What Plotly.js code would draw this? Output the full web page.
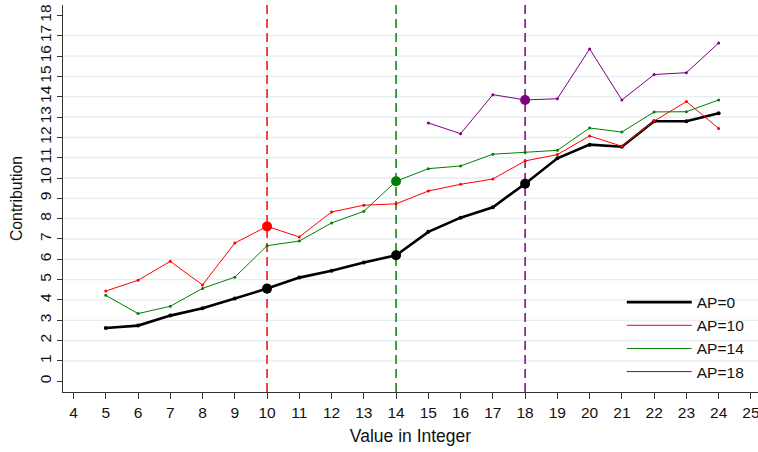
<!DOCTYPE html>
<html>
<head>
<meta charset="utf-8">
<script src="https://cdn.plot.ly/plotly-3.0.1.min.js"></script>
<style>html,body{margin:0;padding:0;background:#fff;}#chart{width:758px;height:452px;}</style>
</head>
<body>
<div id="chart"></div>
<script>
// ---- data ----
const xVals = [5,6,7,8,9,10,11,12,13,14,15,16,17,18,19,20,21,22,23,24];
const ap0  = [2.62,2.74,3.23,3.59,4.07,4.56,5.10,5.44,5.84,6.20,7.35,8.05,8.56,9.72,10.97,11.64,11.54,12.79,12.79,13.18];
const ap10 = [4.44,4.97,5.90,4.74,6.80,7.62,7.10,8.33,8.66,8.73,9.36,9.69,9.95,10.84,11.15,12.07,11.56,12.80,13.76,12.44];
const ap14 = [4.23,3.33,3.69,4.57,5.12,6.67,6.90,7.79,8.36,9.84,10.46,10.59,11.17,11.26,11.36,12.46,12.26,13.25,13.26,13.84];
const ap18x = [15,16,17,18,19,20,21,22,23,24];
const ap18 = [12.71,12.18,14.10,13.84,13.90,16.35,13.84,15.09,15.18,16.64];
const apCutoffs = [10,14,18];
const seriesNames = ['AP=0','AP=10','AP=14','AP=18'];
const xTicks = [4,5,6,7,8,9,10,11,12,13,14,15,16,17,18,19,20,21,22,23,24,25];
const yTicks = [0,1,2,3,4,5,6,7,8,9,10,11,12,13,14,15,16,17,18];

// ---- styles ----
const colors = ['#000000','#ff0000','#008000','#800080'];
const widths = [2.6,1,1,1];
const FONT = '"Liberation Sans", Arial, Helvetica, sans-serif';

const series = [
  {x: xVals, y: ap0},
  {x: xVals, y: ap10},
  {x: xVals, y: ap14},
  {x: ap18x, y: ap18}
];

const traces = [];
series.forEach((s, i) => {
  traces.push({
    x: s.x, y: s.y, type: 'scatter', mode: 'lines', name: seriesNames[i],
    line: {color: colors[i], width: widths[i]}, showlegend: true, hoverinfo: 'skip'
  });
});
series.forEach((s, i) => {
  traces.push({
    x: s.x, y: s.y, type: 'scatter', mode: 'markers', showlegend: false,
    marker: {color: colors[i], size: i === 0 ? 4 : 3}, hoverinfo: 'skip'
  });
});
// highlighted points at each cutoff: on its own series and on AP=0
apCutoffs.forEach((c, k) => {
  const s = series[k + 1];
  const idx = s.x.indexOf(c);
  const idx0 = xVals.indexOf(c);
  traces.push({
    x: [c, c], y: [s.y[idx], ap0[idx0]], type: 'scatter', mode: 'markers', showlegend: false,
    marker: {color: [colors[k + 1], colors[0]], size: 10}, hoverinfo: 'skip'
  });
});

const shapes = [];
// horizontal gridlines (1..17)
yTicks.slice(1, -1).forEach(v => {
  shapes.push({type: 'line', xref: 'paper', yref: 'y', x0: 0, x1: 1, y0: v, y1: v,
    line: {color: '#e4edf0', width: 1.3}, layer: 'below'});
});
// vertical dashed cutoff lines
apCutoffs.forEach((c, k) => {
  shapes.push({type: 'line', xref: 'x', yref: 'paper', x0: c, x1: c, y0: 0, y1: 1,
    line: {color: colors[k + 1], width: 1.5, dash: '9px,5px'}, layer: 'below'});
});

const layout = {
  width: 758, height: 452,
  margin: {l: 63, r: 0, t: 5, b: 60, pad: 0, autoexpand: false},
  paper_bgcolor: '#ffffff', plot_bgcolor: '#ffffff',
  font: {family: FONT, color: '#111', size: 15.5},
  showlegend: true,
  legend: {
    x: 0.804, y: 0.275, xanchor: 'left', yanchor: 'top',
    bgcolor: 'rgba(0,0,0,0)', font: {family: FONT, size: 15.5, color: '#111'},
    tracegroupgap: 0, itemwidth: 65
  },
  xaxis: {
    range: [3.674, 25.22], tickmode: 'array', tickvals: xTicks, ticktext: xTicks.map(String),
    ticks: 'outside', ticklen: 6, tickwidth: 1, tickcolor: '#333',
    showline: true, linecolor: '#333', linewidth: 1, showgrid: false, zeroline: false,
    ticklabeloverflow: 'allow', automargin: false,
    tickfont: {family: FONT, size: 15.5, color: '#111'},
    title: {text: 'Value in Integer', font: {family: FONT, size: 17.5, color: '#111'}, standoff: 10}
  },
  yaxis: {
    range: [-0.527, 18.51], tickmode: 'array', tickvals: yTicks, ticktext: yTicks.map(String),
    tickangle: -90, automargin: false,
    ticks: 'outside', ticklen: 5, tickwidth: 1, tickcolor: '#333',
    showline: true, linecolor: '#333', linewidth: 1, showgrid: false, zeroline: false,
    tickfont: {family: FONT, size: 15.5, color: '#111'},
    title: {text: 'Contribution', font: {family: FONT, size: 15.8, color: '#111'}, standoff: 10}
  },
  shapes: shapes
};

Plotly.newPlot('chart', traces, layout, {displayModeBar: false, staticPlot: true});
</script>
</body>
</html>
